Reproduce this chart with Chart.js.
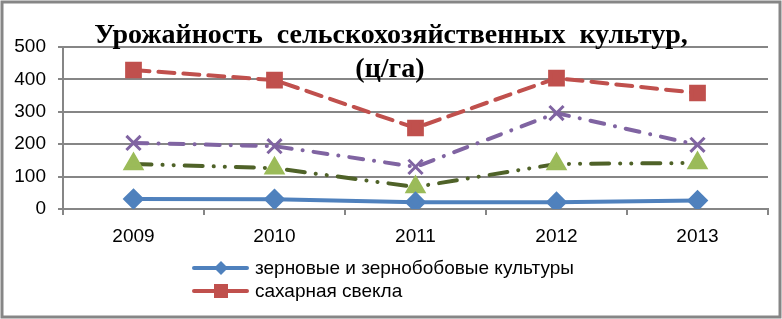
<!DOCTYPE html>
<html lang="ru">
<head>
  <meta charset="UTF-8">
  <title>Урожайность сельскохозяйственных культур</title>
  <script src="https://cdn.jsdelivr.net/npm/chart.js"></script>
  <style>
    html, body { margin: 0; padding: 0; background: #fff; }
    #wrap { width: 782px; height: 319px; position: relative; }
  </style>
</head>
<body>
  <div id="wrap"><canvas id="chart" width="782" height="319"></canvas></div>

  <script>
    // data (ц/га)
    const years = ['2009', '2010', '2011', '2012', '2013'];
    const grain = [31, 30, 21, 21, 26];
    const sugarBeet = [429, 398, 250, 404, 358];
    const seriesC = [204, 194, 130, 296, 198];
    const seriesD = [139, 126, 68, 139, 142];
    const yTicks = [0, 100, 200, 300, 400, 500];

    const labelFont = '"Liberation Sans", Arial, sans-serif';
    const gridGray = '#868686';

    // title drawn on top of the plot, like the original
    const titlePlugin = {
      id: 'titleOverlay',
      afterDraw(chart) {
        const ctx = chart.ctx;
        ctx.save();
        ctx.fillStyle = '#000';
        ctx.font = 'bold 28px "Liberation Serif", "Times New Roman", serif';
        ctx.textAlign = 'center';
        ctx.textBaseline = 'alphabetic';
        ctx.fillText('Урожайность  сельскохозяйственных  культур,', 391, 43);
        ctx.fillText('(ц/га)', 390, 77);
        ctx.restore();
      }
    };

    // frame round the whole chart
    const framePlugin = {
      id: 'frame',
      afterDraw(chart) {
        const ctx = chart.ctx;
        ctx.save();
        ctx.strokeStyle = gridGray;
        ctx.lineWidth = 3;
        ctx.strokeRect(2, 2, chart.width - 4, chart.height - 4);
        ctx.restore();
      }
    };

    // two-row legend, only the first two series as in the original
    const legendPlugin = {
      id: 'stackLegend',
      afterDraw(chart) {
        const ctx = chart.ctx;
        const rows = [0, 1];
        ctx.save();
        rows.forEach((di, i) => {
          const ds = chart.data.datasets[di];
          const y = 268 + i * 23;
          ctx.strokeStyle = ds.borderColor;
          ctx.lineWidth = 4;
          ctx.setLineDash([]);
          ctx.lineCap = 'round';
          ctx.beginPath();
          ctx.moveTo(194, y);
          ctx.lineTo(247, y);
          ctx.stroke();
          ctx.fillStyle = ds.pointBackgroundColor;
          const cx = 221;
          if (ds.pointStyle === 'rectRot') {
            ctx.beginPath();
            ctx.moveTo(cx, y - 7);
            ctx.lineTo(cx + 7, y);
            ctx.lineTo(cx, y + 7);
            ctx.lineTo(cx - 7, y);
            ctx.closePath();
            ctx.fill();
          } else {
            ctx.fillRect(cx - 7, y - 7, 14, 14);
          }
          ctx.fillStyle = '#000';
          ctx.font = '19px ' + labelFont;
          ctx.textAlign = 'left';
          ctx.textBaseline = 'middle';
          ctx.fillText(ds.label, 255, y + 1);
        });
        ctx.restore();
      }
    };

    new Chart(document.getElementById('chart'), {
      type: 'line',
      data: {
        labels: years,
        datasets: [
          {
            label: 'зерновые и зернобобовые культуры',
            data: grain,
            borderColor: '#4f81bd',
            backgroundColor: '#4f81bd',
            pointBackgroundColor: '#4f81bd',
            pointBorderColor: '#4f81bd',
            borderWidth: 4,
            pointStyle: 'rectRot',
            pointRadius: 8,
            tension: 0
          },
          {
            label: 'сахарная свекла',
            data: sugarBeet,
            borderColor: '#c0504d',
            backgroundColor: '#c0504d',
            pointBackgroundColor: '#c0504d',
            pointBorderColor: '#c0504d',
            borderWidth: 4,
            borderDash: [16, 9],
            borderCapStyle: 'round',
            pointStyle: 'rect',
            pointRadius: 9,
            tension: 0
          },
          {
            label: 'ряд 3',
            data: seriesC,
            borderColor: '#8064a2',
            backgroundColor: '#8064a2',
            pointBackgroundColor: '#8064a2',
            pointBorderColor: '#8064a2',
            borderWidth: 4,
            borderDash: [14, 11, 0.1, 11],
            borderCapStyle: 'round',
            pointStyle: 'crossRot',
            pointRadius: 10,
            pointBorderWidth: 3,
            tension: 0
          },
          {
            label: 'ряд 4',
            data: seriesD,
            borderColor: '#4f6228',
            backgroundColor: '#9bbb59',
            pointBackgroundColor: '#9bbb59',
            pointBorderColor: '#9bbb59',
            borderWidth: 4,
            borderDash: [18, 11, 0.1, 11, 0.1, 11],
            borderCapStyle: 'round',
            pointStyle: 'triangle',
            pointRadius: 8.5,
            tension: 0
          }
        ]
      },
      options: {
        responsive: false,
        animation: false,
        layout: { padding: { top: 47, right: 14, left: 0, bottom: 0 } },
        plugins: {
          legend: { display: false },
          title: { display: false },
          tooltip: { enabled: false }
        },
        scales: {
          x: {
            offset: true,
            grid: {
              offset: true,
              drawOnChartArea: false,
              color: gridGray,
              lineWidth: 2,
              tickLength: 6
            },
            border: { color: gridGray, width: 2 },
            ticks: { color: '#000', padding: 10, font: { family: labelFont, size: 19 } },
            afterFit(scale) { scale.height = 110; }
          },
          y: {
            min: 0,
            max: 500,
            afterBuildTicks(scale) { scale.ticks = yTicks.map(v => ({ value: v })); },
            grid: { color: gridGray, lineWidth: 2, tickLength: 5 },
            border: { color: gridGray, width: 2 },
            ticks: { color: '#000', padding: 12, font: { family: labelFont, size: 19 } },
            afterFit(scale) { scale.width = 63; }
          }
        }
      },
      plugins: [framePlugin, titlePlugin, legendPlugin]
    });
  </script>
</body>
</html>
